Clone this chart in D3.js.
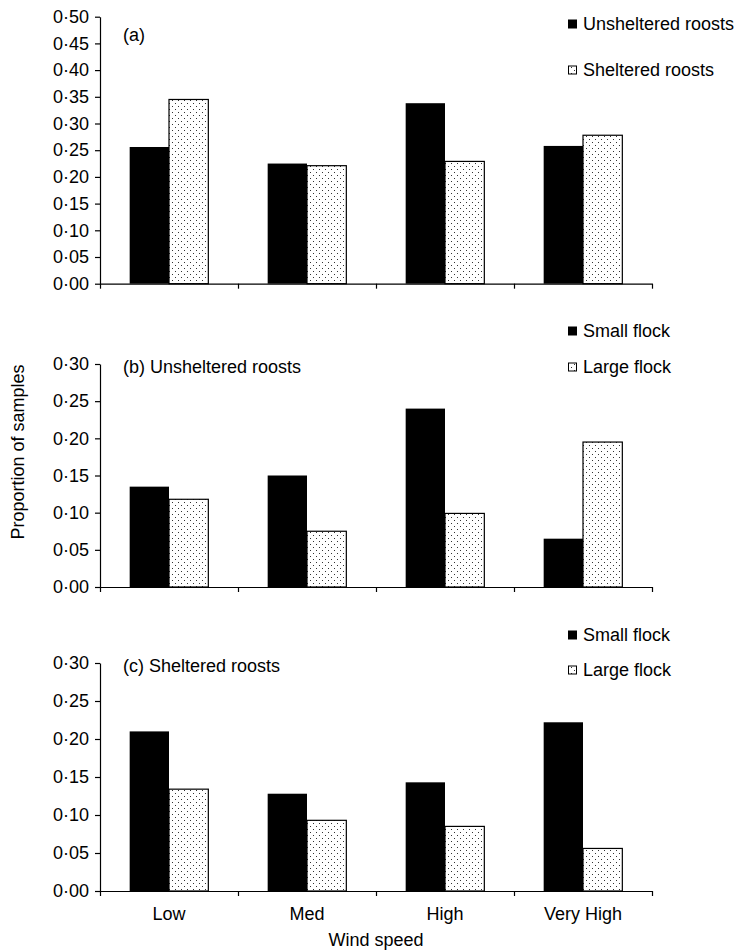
<!DOCTYPE html>
<html>
<head>
<meta charset="utf-8">
<script src="https://cdn.jsdelivr.net/npm/d3@7"></script>
<style>
  body { margin: 0; background: #fff; }
  svg { display: block; font-family: "Liberation Sans", Arial, sans-serif; }
  .axis path, .axis line { stroke: #000; stroke-width: 1.2; }
  .axis text { font-size: 18px; fill: #000; }
</style>
</head>
<body>
<div id="chart"></div>
<script>
const categories = ['Low', 'Med', 'High', 'Very High'];

// (a) all roosts
const unshelteredA = [0.256, 0.225, 0.338, 0.258];
const shelteredA = [0.345, 0.221, 0.229, 0.278];
// (b) unsheltered roosts
const smallB = [0.135, 0.150, 0.240, 0.065];
const largeB = [0.118, 0.075, 0.099, 0.195];
// (c) sheltered roosts
const smallC = [0.210, 0.128, 0.143, 0.222];
const largeC = [0.134, 0.093, 0.085, 0.056];

const yTicksA = d3.range(0, 0.501, 0.05);
const yTicksBC = d3.range(0, 0.301, 0.05);

const width = 741;
const height = 952;
const marginLeft = 100;
const plotRight = 652;

const svg = d3.select('#chart')
  .append('svg')
  .attr('width', width)
  .attr('height', height);

const pat = svg.append('defs').append('pattern')
  .attr('id', 'dots')
  .attr('patternUnits', 'userSpaceOnUse')
  .attr('width', 6)
  .attr('height', 6);
pat.append('rect').attr('width', 6).attr('height', 6).attr('fill', '#fff');
pat.append('rect').attr('x', 1).attr('y', 1).attr('width', 1).attr('height', 1).attr('fill', '#333');
pat.append('rect').attr('x', 4).attr('y', 4).attr('width', 1).attr('height', 1).attr('fill', '#333');

const x = d3.scaleBand()
  .domain(categories)
  .range([marginLeft, plotRight])
  .paddingInner(0.43)
  .paddingOuter(0.215);

// boundaries between categories, for the x tick marks
const xb = d3.scaleLinear().domain([0, categories.length]).range([marginLeft, plotRight]);

const fmt = v => d3.format('.2f')(v).replace('.', '·');

const panels = [
  { top: 16.7, bottom: 283.7, max: 0.5, ticks: yTicksA, s1: unshelteredA, s2: shelteredA,
    title: '(a)', titleY: 41, leg: ['Unsheltered roosts', 'Sheltered roosts'], legY: [24, 70], showX: false },
  { top: 364, bottom: 587, max: 0.3, ticks: yTicksBC, s1: smallB, s2: largeB,
    title: '(b) Unsheltered roosts', titleY: 373, leg: ['Small flock', 'Large flock'], legY: [331, 367], showX: false },
  { top: 663, bottom: 891, max: 0.3, ticks: yTicksBC, s1: smallC, s2: largeC,
    title: '(c) Sheltered roosts', titleY: 672, leg: ['Small flock', 'Large flock'], legY: [635, 670], showX: true },
];

panels.forEach(p => {
  const y = d3.scaleLinear().domain([0, p.max]).range([p.bottom, p.top]);
  const g = svg.append('g');
  const bw = x.bandwidth() / 2;

  g.selectAll('rect.s1')
    .data(p.s1)
    .enter()
    .append('rect')
    .attr('class', 's1')
    .attr('x', (d, i) => x(categories[i]))
    .attr('y', d => y(d))
    .attr('width', bw)
    .attr('height', d => y(0) - y(d))
    .attr('fill', '#000');

  g.selectAll('rect.s2')
    .data(p.s2)
    .enter()
    .append('rect')
    .attr('class', 's2')
    .attr('x', (d, i) => x(categories[i]) + bw)
    .attr('y', d => y(d))
    .attr('width', bw)
    .attr('height', d => y(0) - y(d))
    .attr('fill', 'url(#dots)')
    .attr('stroke', '#000')
    .attr('stroke-width', 1.2);

  g.append('g')
    .attr('class', 'y axis')
    .attr('transform', `translate(${marginLeft},0)`)
    .call(d3.axisLeft(y)
      .tickValues(p.ticks)
      .tickFormat(fmt)
      .tickSize(5)
      .tickSizeOuter(0)
      .tickPadding(6));

  g.append('g')
    .attr('class', 'x axis')
    .attr('transform', `translate(0,${p.bottom})`)
    .call(d3.axisBottom(xb)
      .tickValues(d3.range(categories.length + 1))
      .tickFormat('')
      .tickSize(5)
      .tickSizeOuter(0));

  g.append('text')
    .attr('x', 123)
    .attr('y', p.titleY)
    .attr('font-size', 18)
    .text(p.title);

  const leg = g.append('g').attr('class', 'legend');
  p.leg.forEach((name, i) => {
    leg.append('rect')
      .attr('x', 568.5)
      .attr('y', p.legY[i] - 4)
      .attr('width', 8)
      .attr('height', 8)
      .attr('fill', i === 0 ? '#000' : 'url(#dots)')
      .attr('stroke', '#000')
      .attr('stroke-width', 1);
    leg.append('text')
      .attr('x', 583)
      .attr('y', p.legY[i])
      .attr('dy', '0.35em')
      .attr('font-size', 18)
      .text(name);
  });

  if (p.showX) {
    g.selectAll('text.cat')
      .data(categories)
      .enter()
      .append('text')
      .attr('class', 'cat')
      .attr('x', d => x(d) + x.bandwidth() / 2)
      .attr('y', 920)
      .attr('text-anchor', 'middle')
      .attr('font-size', 18)
      .text(d => d);
  }
});

svg.append('text')
  .attr('x', 376)
  .attr('y', 946)
  .attr('text-anchor', 'middle')
  .attr('font-size', 18)
  .text('Wind speed');

svg.append('text')
  .attr('transform', 'translate(24,452) rotate(-90)')
  .attr('text-anchor', 'middle')
  .attr('font-size', 18)
  .text('Proportion of samples');
</script>
</body>
</html>
